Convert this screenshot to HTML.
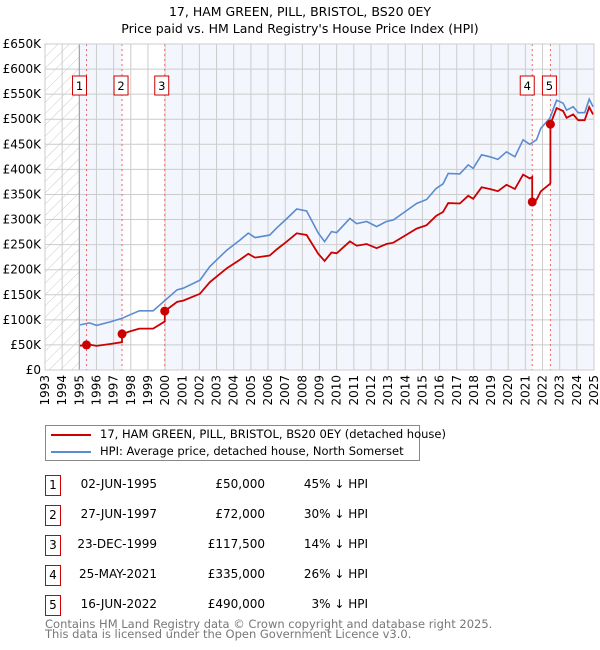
<!DOCTYPE html>
<html><head><meta charset="utf-8"><style>
body{margin:0;background:#fff;font-family:"DejaVu Sans","Liberation Sans",sans-serif;}
#wrap{position:relative;width:600px;height:650px;overflow:hidden}
.t{position:absolute;font-size:12px;color:#000;white-space:nowrap}
.num{position:absolute;width:14px;height:19px;border:1px solid #c00;font-size:12px;text-align:center;line-height:19px}
</style></head><body><div id="wrap">
<div class="t" style="left:0;width:600px;text-align:center;top:4px;font-size:12.5px">17, HAM GREEN, PILL, BRISTOL, BS20 0EY</div>
<div class="t" style="left:0;width:600px;text-align:center;top:21px;font-size:12.5px">Price paid vs. HM Land Registry's House Price Index (HPI)</div>
<svg id="chart" width="600" height="420" style="position:absolute;left:0;top:0" font-family="DejaVu Sans, Liberation Sans, sans-serif"></svg>
<div style="position:absolute;left:45px;top:425px;width:375px;height:36px;border:1px solid #888;box-sizing:border-box">
<div><div style="position:absolute;left:5px;top:8px;width:40px;height:2px;background:#c00"></div><div class="t" style="left:54px;top:1px;font-size:11.5px">17, HAM GREEN, PILL, BRISTOL, BS20 0EY (detached house)</div></div>
<div><div style="position:absolute;left:5px;top:25px;width:40px;height:2px;background:#5b8bd0"></div><div class="t" style="left:54px;top:18px;font-size:11.5px">HPI: Average price, detached house, North Somerset</div></div>
</div>
<div id="table"></div>
<div class="t" style="left:45px;top:619px;color:#777;font-size:11.5px;line-height:10px">Contains HM Land Registry data © Crown copyright and database right 2025.<br>This data is licensed under the Open Government Licence v3.0.</div>
</div>
<script>
const hpiYears=[1995.04,1995.6,1996.0,1996.8,1997.5,1997.95,1998.5,1999.3,1999.9,2000.7,2001.06,2002.03,2002.6,2003.2,2003.6,2004.36,2004.85,2005.24,2006.1,2006.5,2007.1,2007.67,2008.25,2008.93,2009.3,2009.7,2010.0,2010.77,2011.17,2011.75,2012.33,2012.9,2013.3,2014.08,2014.66,2015.24,2015.8,2016.2,2016.5,2017.18,2017.67,2017.96,2018.45,2018.93,2019.4,2019.9,2020.39,2020.87,2021.26,2021.65,2021.9,2022.43,2022.82,2023.2,2023.4,2023.79,2024.08,2024.46,2024.72,2024.95];
const hpiValues=[90,94,89,96,103,110,118,118,136,160,163,179,206,226,239,259,273,264,269,283,302,321,317,273,256,276,274,302,292,296,286,296,299,318,332,340,362,371,392,391,409,402,429,425,420,435,425,459,450,459,482,502,538,532,518,525,513,513,540,525];
const saleYears=[1995.42,1997.49,1999.98,2021.4,2022.46];
const salePrices=[50,72,117.5,335,490];
const saleLabels=["1","2","3","4","5"];
const saleDates=["02-JUN-1995","27-JUN-1997","23-DEC-1999","25-MAY-2021","16-JUN-2022"];
const salePriceText=["£50,000","£72,000","£117,500","£335,000","£490,000"];
const salePct=["45% ↓ HPI","30% ↓ HPI","14% ↓ HPI","26% ↓ HPI","3% ↓ HPI"];
const yTicks=[0,50,100,150,200,250,300,350,400,450,500,550,600,650];
const yTickLabels=["£0","£50K","£100K","£150K","£200K","£250K","£300K","£350K","£400K","£450K","£500K","£550K","£600K","£650K"];
const xTicks=[1993,1994,1995,1996,1997,1998,1999,2000,2001,2002,2003,2004,2005,2006,2007,2008,2009,2010,2011,2012,2013,2014,2015,2016,2017,2018,2019,2020,2021,2022,2023,2024,2025];

const L=45,R=594,T=44,B=370;
const X=y=>L+(y-1993)/(2025-1993)*(R-L);
const Y=v=>B-v/650*(B-T);
const svg=document.getElementById('chart');const NS='http://www.w3.org/2000/svg';
function mk(tag,attrs,parent){const e=document.createElementNS(NS,tag);for(const k in attrs)e.setAttribute(k,attrs[k]);(parent||svg).appendChild(e);return e;}
function hpiAt(t){if(t<=hpiYears[0])return hpiValues[0];for(let i=1;i<hpiYears.length;i++){if(t<=hpiYears[i]){const f=(t-hpiYears[i-1])/(hpiYears[i]-hpiYears[i-1]);return hpiValues[i-1]+f*(hpiValues[i]-hpiValues[i-1]);}}return hpiValues[hpiValues.length-1];}
const defs=mk('defs',{});const pat=mk('pattern',{id:'hatch',width:8,height:8,patternUnits:'userSpaceOnUse',patternTransform:'rotate(45)'},defs);mk('line',{x1:0,y1:0,x2:0,y2:8,stroke:'#ccc','stroke-width':1},pat);
const bg=mk('rect',{x:L,y:T,width:R-L,height:B-T,fill:'#f3f6fd'});
mk('rect',{x:L,y:T,width:X(1995)-L,height:B-T,fill:'#fff'});
const h=mk('rect',{x:L,y:T,width:X(1995)-L,height:B-T,fill:'url(#hatch)'});
[[1,2],[3,4]].forEach(([a,b])=>{const r=mk('rect',{x:X(saleYears[a]),y:T,width:X(saleYears[b])-X(saleYears[a]),height:B-T,fill:'#fff'});});
xTicks.forEach((yr,i)=>{const g=mk('line',{x1:X(yr),x2:X(yr),y1:T,y2:B,stroke:'#ccc','stroke-width':1});
const tx=X(yr)+4,ty=B+5;const t=mk('text',{x:tx,y:ty,'text-anchor':'end','font-size':12,transform:`rotate(-90 ${tx} ${ty})`});t.textContent=yr;});
yTicks.forEach((v,i)=>{const g=mk('line',{x1:L,x2:R,y1:Y(v),y2:Y(v),stroke:'#ccc','stroke-width':1});
const t=mk('text',{x:L-4,y:Y(v)+4,'text-anchor':'end','font-size':12});t.textContent=yTickLabels[i];});
mk('line',{x1:X(1995),x2:X(1995),y1:T,y2:B,stroke:'#999','stroke-width':1});
saleYears.forEach((s,i)=>{const l=mk('line',{x1:X(s),x2:X(s),y1:T,y2:B,stroke:'#e66','stroke-width':1,'stroke-dasharray':'2,3'});});
let d=hpiYears.map((t,i)=>(i?'L':'M')+X(t).toFixed(1)+','+Y(hpiValues[i]).toFixed(1)).join('');
const hp=mk('path',{d:d,fill:'none',stroke:'#5b8bd0','stroke-width':1.6});
const ratios=saleYears.map((s,i)=>salePrices[i]/hpiAt(s));
function ratioAt(t){let k=0;for(let i=0;i<saleYears.length;i++)if(t>=saleYears[i])k=i;return ratios[k];}
let pts=[];const allT=hpiYears.concat(saleYears).sort((a,b)=>a-b);
allT.forEach(t=>{const si=saleYears.indexOf(t);if(si>0){pts.push([t,hpiAt(t)*ratios[si-1]]);}pts.push([t,hpiAt(t)*ratioAt(t)]);});
d=pts.map((p,i)=>(i?'L':'M')+X(p[0]).toFixed(1)+','+Y(p[1]).toFixed(1)).join('');
const rp=mk('path',{d:d,fill:'none',stroke:'#c00','stroke-width':1.8});
saleYears.forEach((s,i)=>{const c=mk('circle',{cx:X(s),cy:Y(salePrices[i]),r:4.5,fill:'#c00'});
const ox=i==0?X(s)-14:i==1?X(s)-8:i==2?X(s)-10:i==3?X(s)-12:X(s)-8;
const r=mk('rect',{x:ox,y:76,width:14,height:19,fill:'#fff',stroke:'#c00','stroke-width':1});
const t=mk('text',{x:ox+7,y:90,'text-anchor':'middle','font-size':11.5});t.textContent=saleLabels[i];});
mk('rect',{x:L,y:T,width:R-L,height:B-T,fill:'none',stroke:'#ccc'});
const tb=document.getElementById('table');
saleLabels.forEach((n,i)=>{const top=475+i*30;const row=document.createElement('div');
row.innerHTML=`<div class="num" style="left:45px;top:${top}px">${n}</div><div class="t" style="right:443px;top:${top+2}px">${saleDates[i]}</div><div class="t" style="right:335px;top:${top+2}px">${salePriceText[i]}</div><div class="t" style="right:232px;top:${top+2}px">${salePct[i]}</div>`;tb.appendChild(row);});
</script></body></html>
